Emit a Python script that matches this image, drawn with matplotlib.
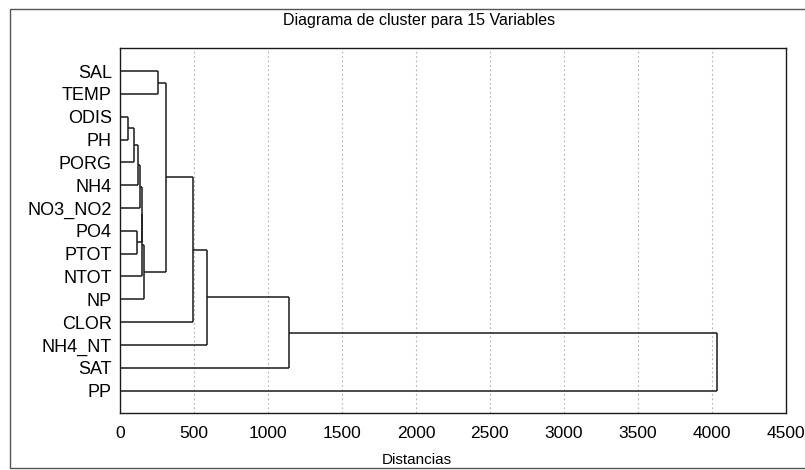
import numpy as np
import matplotlib
matplotlib.use('Agg')
import matplotlib.pyplot as plt
from matplotlib.patches import Rectangle

# leaves, top to bottom
labels = ['SAL', 'TEMP', 'ODIS', 'PH', 'PORG', 'NH4', 'NO3_NO2', 'PO4',
          'PTOT', 'NTOT', 'NP', 'CLOR', 'NH4_NT', 'SAT', 'PP']

# merges: indices < 15 are leaves, 15+k is the cluster made by merge k
merge_left = [2, 15, 16, 17, 7, 18, 20, 21, 0, 23, 24, 25, 26, 27]
merge_right = [3, 4, 5, 6, 8, 19, 9, 10, 1, 22, 11, 12, 13, 14]
merge_dist = [55, 95, 120, 134, 115, 148, 150, 160, 257, 309, 493, 590, 1142, 4036]

xticks = [0, 500, 1000, 1500, 2000, 2500, 3000, 3500, 4000, 4500]

plt.rcParams['font.family'] = ['Liberation Sans', 'DejaVu Sans']

fig = plt.figure(figsize=(8.05, 4.70), dpi=100)
ax = fig.add_axes([0.1493, 0.1206, 0.976 - 0.1493, 0.8972 - 0.1206])

n = len(labels)
ypos = {i: float(i) for i in range(n)}
xpos = {i: 0.0 for i in range(n)}

lc = '#1a1a1a'
for k in range(len(merge_dist)):
    a = merge_left[k]
    b = merge_right[k]
    d = merge_dist[k]
    # horizontal arms from each child, then the vertical joining them
    ax.plot([xpos[a], d], [ypos[a], ypos[a]], color=lc, lw=1.1, solid_capstyle='butt')
    ax.plot([xpos[b], d], [ypos[b], ypos[b]], color=lc, lw=1.1, solid_capstyle='butt')
    ax.plot([d, d], [ypos[a], ypos[b]], color=lc, lw=1.1, solid_capstyle='butt')
    ypos[n + k] = (ypos[a] + ypos[b]) / 2.
    xpos[n + k] = d

ax.set_xlim(0, 4500)
ax.set_ylim(15, -1)
ax.set_xticks(xticks)
ax.set_xticklabels([str(t) for t in xticks], fontsize=12.5)
ax.set_yticks(range(n))
ax.set_yticklabels(labels, fontsize=13)
ax.tick_params(axis='x', length=0, pad=9)
ax.tick_params(axis='y', length=0, pad=6)

# dotted vertical grid
for t in xticks[1:-1]:
    ax.axvline(t, color='#b0b0b0', lw=0.8, ls=(0, (1.5, 2.5)), zorder=0)

for s in ax.spines.values():
    s.set_linewidth(1.0)
    s.set_color(lc)

fig.text(419 / 805., 1 - 21 / 470., 'Diagrama de cluster para 15 Variables',
         ha='center', va='center', fontsize=11.5)
fig.text(417 / 805., 1 - 460 / 470., 'Distancias', ha='center', va='center', fontsize=11)

# outer frame
fig.patches.append(Rectangle((10 / 805., 2 / 470.), 1.0, 1 - 11 / 470., transform=fig.transFigure,
                             fill=False, edgecolor='#555555', lw=1.0))

fig.savefig('out.png', dpi=100)
